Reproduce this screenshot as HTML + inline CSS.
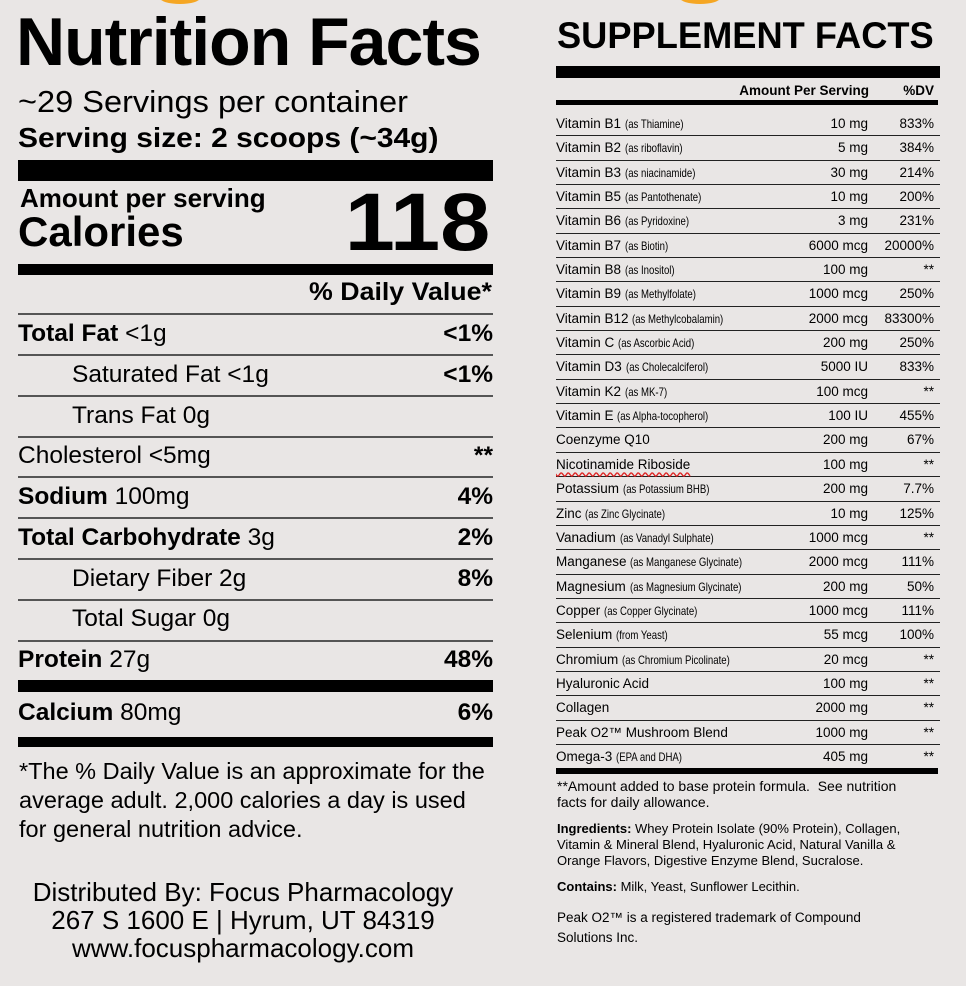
<!DOCTYPE html>
<html><head><meta charset="utf-8"><style>
body{margin:0;width:966px;height:986px;background:#e9e6e5;position:relative;overflow:hidden;font-family:"Liberation Sans",sans-serif;color:#000}
.a{position:absolute;white-space:nowrap}
.bar{position:absolute;background:#000}
.gl{position:absolute;height:2px;background:#555;left:18px;width:475px}
.L{position:absolute;left:18px;width:475px;height:40px;line-height:40px;font-size:24.5px}
.L .r{position:absolute;right:0;top:0;font-weight:bold}
.L b{font-weight:bold}
#sup{position:absolute;left:556px;top:112px;width:384px}
.R{height:24.35px;box-sizing:border-box;border-bottom:1.5px solid #222;position:relative;font-size:13.5px;line-height:23px}
.R s{text-decoration:none;font-size:12px;display:inline-block;transform:scaleX(.8);transform-origin:left}
.R .m{position:absolute;right:72px;top:0}
.R .d{position:absolute;right:6px;top:0}
.ft{position:absolute;left:557px;font-size:14px;line-height:16px;width:365px}
</style></head><body>
<div class="a" style="left:160px;top:-8px;width:40px;height:12px;border-radius:50%;background:#f5a623"></div>
<div class="a" style="left:680px;top:-8px;width:40px;height:12px;border-radius:50%;background:#f5a623"></div>

<div class="a" style="left:16px;top:3px;font-size:68px;font-weight:bold;letter-spacing:-1px;transform:scaleX(1.0);transform-origin:left">Nutrition Facts</div>
<div class="a" style="left:18px;top:84px;font-size:31px;transform:scaleX(1.05);transform-origin:left">~29 Servings per container</div>
<div class="a" style="left:18px;top:122px;font-size:28px;font-weight:bold;transform:scaleX(1.07);transform-origin:left">Serving size: 2 scoops (~34g)</div>
<div class="bar" style="left:18px;top:160px;width:475px;height:21px"></div>
<div class="a" style="left:20px;top:183px;font-size:26px;font-weight:bold">Amount per serving</div>
<div class="a" style="left:18px;top:208px;font-size:42px;font-weight:bold">Calories</div>
<div class="a" style="right:476px;top:178px;font-size:82px;font-weight:bold;line-height:90px;transform:scaleX(1.1);transform-origin:right">118</div>
<div class="bar" style="left:18px;top:264px;width:475px;height:11px"></div>
<div class="a" style="right:474px;top:278px;font-size:25px;font-weight:bold;transform:scaleX(1.07);transform-origin:right">% Daily Value*</div>
<div class="gl" style="top:313px"></div>

<div class="L" style="top:314px"><b>Total Fat</b> &lt;1g<span class="r">&lt;1%</span></div>
<div class="gl" style="top:354px"></div>
<div class="L" style="top:355px;padding-left:54px;box-sizing:border-box">Saturated Fat &lt;1g<span class="r">&lt;1%</span></div>
<div class="gl" style="top:395px"></div>
<div class="L" style="top:396px;padding-left:54px;box-sizing:border-box">Trans Fat 0g</div>
<div class="gl" style="top:436px"></div>
<div class="L" style="top:436px">Cholesterol &lt;5mg<span class="r">**</span></div>
<div class="gl" style="top:476px"></div>
<div class="L" style="top:477px"><b>Sodium</b> 100mg<span class="r">4%</span></div>
<div class="gl" style="top:517px"></div>
<div class="L" style="top:518px"><b>Total Carbohydrate</b> 3g<span class="r">2%</span></div>
<div class="gl" style="top:558px"></div>
<div class="L" style="top:559px;padding-left:54px;box-sizing:border-box">Dietary Fiber 2g<span class="r">8%</span></div>
<div class="gl" style="top:599px"></div>
<div class="L" style="top:599px;padding-left:54px;box-sizing:border-box">Total Sugar 0g</div>
<div class="gl" style="top:640px"></div>
<div class="L" style="top:640px"><b>Protein</b> 27g<span class="r">48%</span></div>
<div class="bar" style="left:18px;top:680px;width:475px;height:12px"></div>
<div class="L" style="top:693px"><b>Calcium</b> 80mg<span class="r">6%</span></div>
<div class="bar" style="left:18px;top:737px;width:475px;height:10px"></div>
<div class="a" style="left:19px;top:757px;font-size:23.5px;line-height:29px;white-space:normal;width:478px">*The % Daily Value is an approximate for the average adult. 2,000 calories a day is used for general nutrition advice.</div>
<div class="a" style="left:0;width:486px;text-align:center;top:878px;font-size:26px;line-height:28px;white-space:normal">Distributed By: Focus Pharmacology<br>267 S 1600 E | Hyrum, UT 84319<br>www.focuspharmacology.com</div>

<div class="a" style="left:557px;top:15px;font-size:37px;font-weight:bold;transform:scaleX(.98);transform-origin:left">SUPPLEMENT FACTS</div>
<div class="bar" style="left:556px;top:66px;width:384px;height:12px"></div>
<div class="a" style="right:97px;top:83px;font-size:13.5px;font-weight:bold">Amount Per Serving</div>
<div class="a" style="right:32px;top:83px;font-size:13.5px;font-weight:bold">%DV</div>
<div class="bar" style="left:556px;top:100px;width:382px;height:5px"></div>
<div id="sup">
<div class="R">Vitamin B1 <s>(as Thiamine)</s><span class="m">10 mg</span><span class="d">833%</span></div>
<div class="R">Vitamin B2 <s>(as riboflavin)</s><span class="m">5 mg</span><span class="d">384%</span></div>
<div class="R">Vitamin B3 <s>(as niacinamide)</s><span class="m">30 mg</span><span class="d">214%</span></div>
<div class="R">Vitamin B5 <s>(as Pantothenate)</s><span class="m">10 mg</span><span class="d">200%</span></div>
<div class="R">Vitamin B6 <s>(as Pyridoxine)</s><span class="m">3 mg</span><span class="d">231%</span></div>
<div class="R">Vitamin B7 <s>(as Biotin)</s><span class="m">6000 mcg</span><span class="d">20000%</span></div>
<div class="R">Vitamin B8 <s>(as Inositol)</s><span class="m">100 mg</span><span class="d">**</span></div>
<div class="R">Vitamin B9 <s>(as Methylfolate)</s><span class="m">1000 mcg</span><span class="d">250%</span></div>
<div class="R">Vitamin B12 <s>(as Methylcobalamin)</s><span class="m">2000 mcg</span><span class="d">83300%</span></div>
<div class="R">Vitamin C <s>(as Ascorbic Acid)</s><span class="m">200 mg</span><span class="d">250%</span></div>
<div class="R">Vitamin D3 <s>(as Cholecalciferol)</s><span class="m">5000 IU</span><span class="d">833%</span></div>
<div class="R">Vitamin K2 <s>(as MK-7)</s><span class="m">100 mcg</span><span class="d">**</span></div>
<div class="R">Vitamin E <s>(as Alpha-tocopherol)</s><span class="m">100 IU</span><span class="d">455%</span></div>
<div class="R">Coenzyme Q10<span class="m">200 mg</span><span class="d">67%</span></div>
<div class="R"><span style="text-decoration:underline wavy #d22;text-underline-offset:3px">Nicotinamide Riboside</span><span class="m">100 mg</span><span class="d">**</span></div>
<div class="R">Potassium <s>(as Potassium BHB)</s><span class="m">200 mg</span><span class="d">7.7%</span></div>
<div class="R">Zinc <s>(as Zinc Glycinate)</s><span class="m">10 mg</span><span class="d">125%</span></div>
<div class="R">Vanadium <s>(as Vanadyl Sulphate)</s><span class="m">1000 mcg</span><span class="d">**</span></div>
<div class="R">Manganese <s>(as Manganese Glycinate)</s><span class="m">2000 mcg</span><span class="d">111%</span></div>
<div class="R">Magnesium <s>(as Magnesium Glycinate)</s><span class="m">200 mg</span><span class="d">50%</span></div>
<div class="R">Copper <s>(as Copper Glycinate)</s><span class="m">1000 mcg</span><span class="d">111%</span></div>
<div class="R">Selenium <s>(from Yeast)</s><span class="m">55 mcg</span><span class="d">100%</span></div>
<div class="R">Chromium <s>(as Chromium Picolinate)</s><span class="m">20 mcg</span><span class="d">**</span></div>
<div class="R">Hyaluronic Acid<span class="m">100 mg</span><span class="d">**</span></div>
<div class="R">Collagen<span class="m">2000 mg</span><span class="d">**</span></div>
<div class="R">Peak O2™ Mushroom Blend<span class="m">1000 mg</span><span class="d">**</span></div>
<div class="R" style="border:none">Omega-3 <s>(EPA and DHA)</s><span class="m">405 mg</span><span class="d">**</span></div>
</div>
<div class="bar" style="left:556px;top:768px;width:382px;height:6px"></div>
<div class="ft" style="top:778px">**Amount added to base protein formula.&nbsp; See nutrition facts for daily allowance.</div>
<div class="ft" style="top:821px;font-size:13px;width:385px"><b>Ingredients:</b> Whey Protein Isolate (90% Protein), Collagen, Vitamin &amp; Mineral Blend, Hyaluronic Acid, Natural Vanilla &amp; Orange Flavors, Digestive Enzyme Blend, Sucralose.</div>
<div class="ft" style="top:879px;font-size:13px"><b>Contains:</b> Milk, Yeast, Sunflower Lecithin.</div>
<div class="ft" style="top:908px;line-height:20px;font-size:13.5px;width:360px">Peak O2™ is a registered trademark of Compound Solutions Inc.</div>
</body></html>
